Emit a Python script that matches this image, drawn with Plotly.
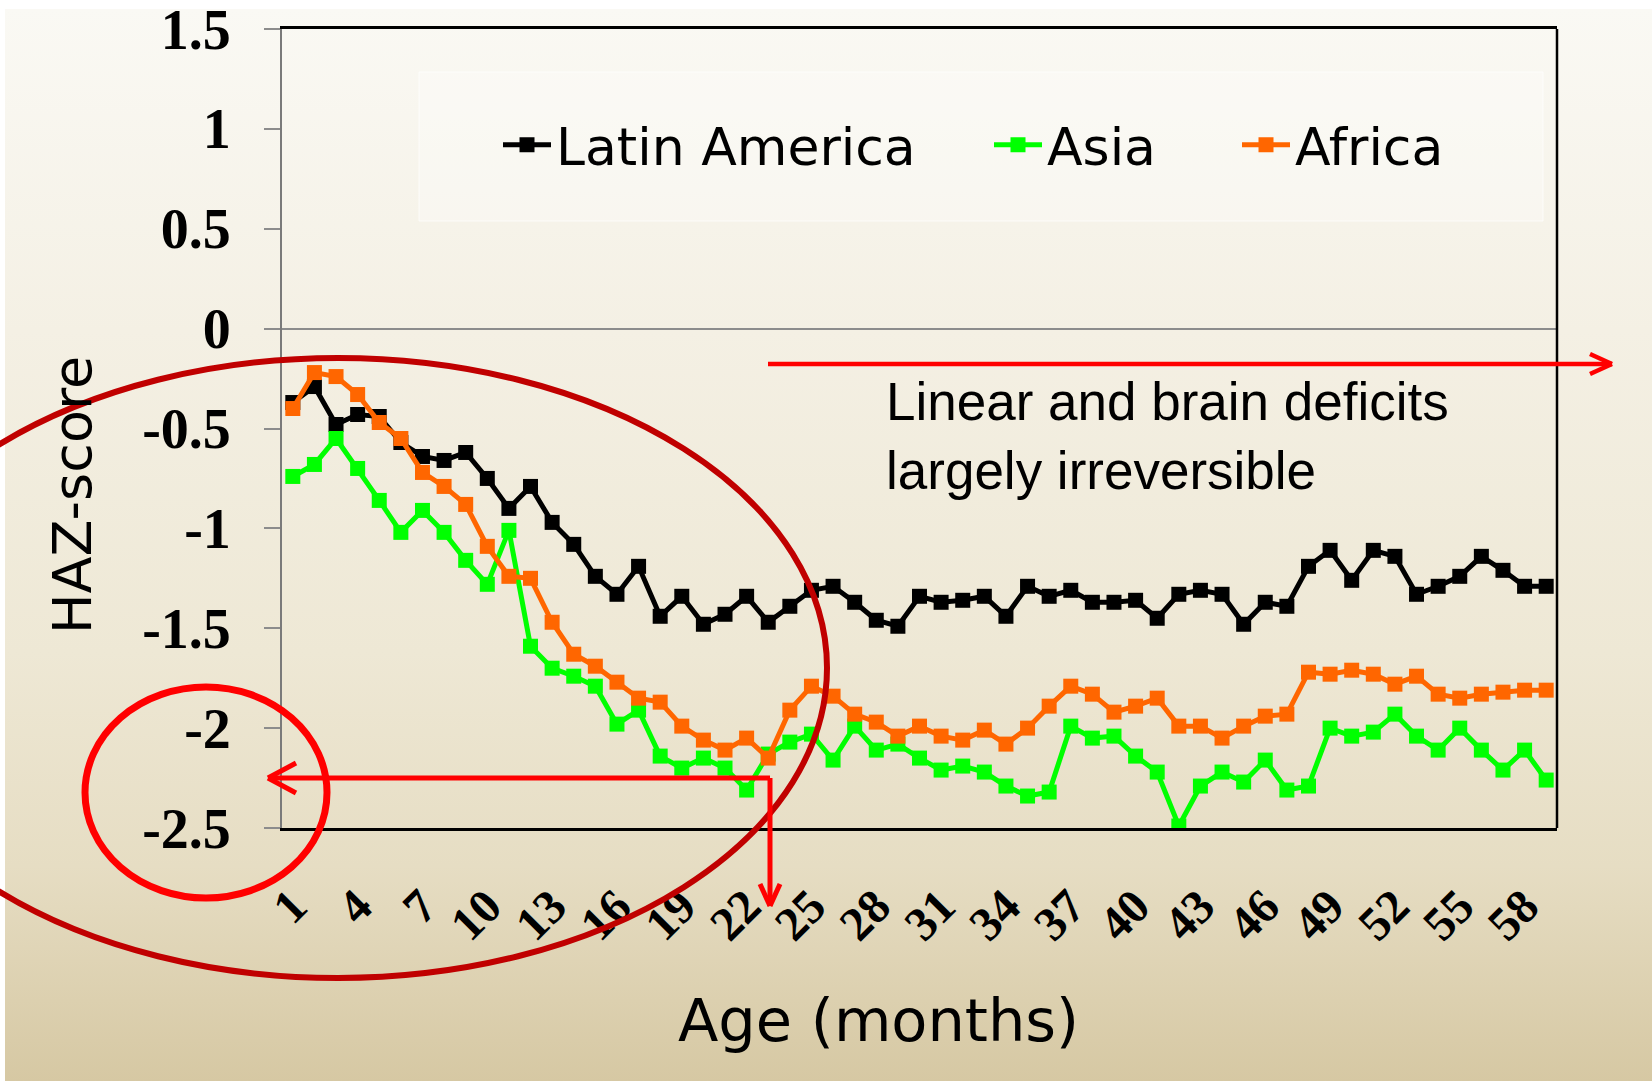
import base64
import plotly.graph_objects as go

# ---- data -------------------------------------------------------------
months = list(range(1, 60))

latin_america = [-0.37, -0.29, -0.48, -0.43, -0.44, -0.57, -0.64, -0.66, -0.62, -0.75,
                 -0.90, -0.79, -0.97, -1.08, -1.24, -1.33, -1.19, -1.44, -1.34, -1.48,
                 -1.43, -1.34, -1.47, -1.39, -1.31, -1.29, -1.37, -1.46, -1.49, -1.34,
                 -1.37, -1.36, -1.34, -1.44, -1.29, -1.34, -1.31, -1.37, -1.37, -1.36,
                 -1.45, -1.33, -1.31, -1.33, -1.48, -1.37, -1.39, -1.19, -1.11, -1.26,
                 -1.11, -1.14, -1.33, -1.29, -1.24, -1.14, -1.21, -1.29, -1.29]

asia = [-0.74, -0.68, -0.55, -0.70, -0.86, -1.02, -0.91, -1.02, -1.16, -1.28,
        -1.01, -1.59, -1.70, -1.74, -1.79, -1.98, -1.91, -2.14, -2.20, -2.15,
        -2.20, -2.31, -2.13, -2.07, -2.03, -2.16, -1.99, -2.11, -2.08, -2.15,
        -2.21, -2.19, -2.22, -2.29, -2.34, -2.32, -1.99, -2.05, -2.04, -2.14,
        -2.22, -2.49, -2.29, -2.22, -2.27, -2.16, -2.31, -2.29, -2.00, -2.04,
        -2.02, -1.93, -2.04, -2.11, -2.00, -2.11, -2.21, -2.11, -2.26]

africa = [-0.40, -0.22, -0.24, -0.33, -0.47, -0.55, -0.72, -0.79, -0.88, -1.09,
          -1.24, -1.25, -1.47, -1.63, -1.69, -1.77, -1.85, -1.87, -1.99, -2.06,
          -2.11, -2.05, -2.15, -1.91, -1.79, -1.84, -1.93, -1.97, -2.04, -1.99,
          -2.04, -2.06, -2.01, -2.08, -2.00, -1.89, -1.79, -1.83, -1.92, -1.89,
          -1.85, -1.99, -1.99, -2.05, -1.99, -1.94, -1.93, -1.72, -1.73, -1.71,
          -1.73, -1.78, -1.74, -1.83, -1.85, -1.83, -1.82, -1.81, -1.81]

x_tick_values = list(range(1, 60, 3))
x_tick_labels = [str(v) for v in x_tick_values]
y_tick_values = [1.5, 1, 0.5, 0, -0.5, -1, -1.5, -2, -2.5]
y_tick_labels = ["1.5", "1", "0.5", "0", "-0.5", "-1", "-1.5", "-2", "-2.5"]

# ---- page geometry (pixels) -------------------------------------------
W, H = 1652, 1081
L, R, T, B = 282, 1557, 29, 828          # plot area edges


def px(x):
    return (x - L) / (R - L)


def py(y):
    return (B - y) / (B - T)


# ---- figure -----------------------------------------------------------
fig = go.Figure()

series = [
    ("Latin America", latin_america, "#000000", "legend"),
    ("Asia", asia, "#00ff00", "legend2"),
    ("Africa", africa, "#ff6600", "legend3"),
]
for name, values, color, leg in series:
    fig.add_trace(go.Scatter(
        x=months, y=values, name=name, mode="lines+markers",
        line=dict(color=color, width=5),
        marker=dict(symbol="square", size=15, color=color),
        legend=leg,
    ))

# soft vertical gradient behind the whole slide
grad_svg = (
    '<svg xmlns="http://www.w3.org/2000/svg" width="100" height="100" '
    'viewBox="0 0 100 100" preserveAspectRatio="none">'
    '<defs><linearGradient id="g" x1="0" y1="0" x2="0" y2="1">'
    '<stop offset="0" stop-color="#faf9f4"/>'
    '<stop offset="0.3" stop-color="#f4f0e4"/>'
    '<stop offset="0.6" stop-color="#eee8d5"/>'
    '<stop offset="0.8" stop-color="#e6ddc3"/>'
    '<stop offset="1" stop-color="#d6c8a3"/>'
    '</linearGradient></defs>'
    '<rect width="100" height="100" fill="url(#g)"/></svg>'
)
grad_uri = "data:image/svg+xml;base64," + base64.b64encode(grad_svg.encode()).decode()
fig.add_layout_image(dict(
    source=grad_uri, xref="paper", yref="paper",
    x=px(5), y=py(9), sizex=px(W) - px(5), sizey=py(9) - py(H),
    xanchor="left", yanchor="top", sizing="stretch", layer="below",
))

shapes = []
# legend panel
shapes.append(dict(type="rect", xref="paper", yref="paper",
                   x0=px(419), x1=px(1543), y0=py(72), y1=py(221),
                   fillcolor="rgba(255,255,255,0.30)",
                   line=dict(color="rgba(255,255,255,0.7)", width=1)))
# right border of the plot area
shapes.append(dict(type="line", xref="paper", yref="paper",
                   x0=1, x1=1, y0=0, y1=1, line=dict(color="#000000", width=2.5)))
# large dark-red ellipse around the first two years
shapes.append(dict(type="circle", xref="paper", yref="paper",
                   x0=px(-151), x1=px(827), y0=py(978), y1=py(358),
                   line=dict(color="#c00000", width=6)))
# red circle around the -2 / -2.5 labels
shapes.append(dict(type="circle", xref="paper", yref="paper",
                   x0=px(85), x1=px(327), y0=py(898), y1=py(687),
                   line=dict(color="#ff0000", width=7)))


def seg(x0, y0, x1, y1, width):
    return dict(type="line", xref="paper", yref="paper",
                x0=px(x0), y0=py(y0), x1=px(x1), y1=py(y1),
                line=dict(color="#ff0000", width=width))


# elbow arrow: left to the axis, down to the age axis
shapes += [
    seg(770, 778, 268, 778, 5),
    seg(268, 778, 296, 763, 5),
    seg(268, 778, 296, 793, 5),
    seg(770, 778, 770, 906, 5),
    seg(770, 906, 760, 884, 5),
    seg(770, 906, 780, 884, 5),
]
# long arrow to the right
shapes += [
    seg(768, 364, 1612, 364, 4.5),
    seg(1612, 364, 1590, 354, 4.5),
    seg(1612, 364, 1590, 374, 4.5),
]

annotations = [
    dict(text="Linear and brain deficits<br>largely irreversible",
         xref="paper", yref="paper", x=px(884), y=py(370),
         xanchor="left", yanchor="top", align="left", showarrow=False,
         font=dict(family="Liberation Sans, Arial", size=53, color="#000000")),
    dict(text="HAZ-score", xref="paper", yref="paper", x=px(73), y=py(495),
         xanchor="center", yanchor="middle", textangle=-90, showarrow=False,
         font=dict(family="DejaVu Sans", size=54, color="#000000")),
    dict(text="Age (months)", xref="paper", yref="paper", x=px(878), y=py(1020),
         xanchor="center", yanchor="middle", showarrow=False,
         font=dict(family="DejaVu Sans", size=59, color="#000000")),
]

legend_common = dict(
    orientation="h", yanchor="middle", xanchor="left", y=py(145),
    bgcolor="rgba(0,0,0,0)", borderwidth=0,
    font=dict(family="DejaVu Sans", size=52, color="#000000"),
    itemwidth=48,
)

fig.update_layout(
    width=W, height=H, autosize=False,
    margin=dict(l=L, r=W - R, t=T, b=H - B, pad=0),
    paper_bgcolor="#ffffff",
    plot_bgcolor="rgba(0,0,0,0)",
    shapes=shapes,
    annotations=annotations,
    legend=dict(x=px(498), **legend_common),
    legend2=dict(x=px(989), **legend_common),
    legend3=dict(x=px(1237), **legend_common),
    showlegend=True,
)

fig.update_xaxes(
    range=[0.5, 59.5], tickmode="array",
    tickvals=x_tick_values, ticktext=x_tick_labels, tickangle=-45,
    tickfont=dict(family="Liberation Serif, Times New Roman", size=48,
                  color="#000000", weight="bold"),
    showgrid=False, zeroline=False,
    showline=True, linecolor="#000000", linewidth=2.5, mirror=True,
    ticks="", ticklabelstandoff=28, automargin=False,
)

fig.update_yaxes(
    range=[-2.5, 1.5], tickmode="array",
    tickvals=y_tick_values, ticktext=y_tick_labels,
    tickfont=dict(family="Liberation Serif, Times New Roman", size=56,
                  color="#000000", weight="bold"),
    showgrid=False,
    zeroline=True, zerolinecolor="#8c8c8c", zerolinewidth=1.5,
    showline=True, linecolor="#7a7a7a", linewidth=2,
    ticks="outside", ticklen=16, tickcolor="#8c8c8c", tickwidth=1.5,
    ticklabelstandoff=22, automargin=False, ticklabeloverflow="allow",
)

fig.write_html("out.html")
